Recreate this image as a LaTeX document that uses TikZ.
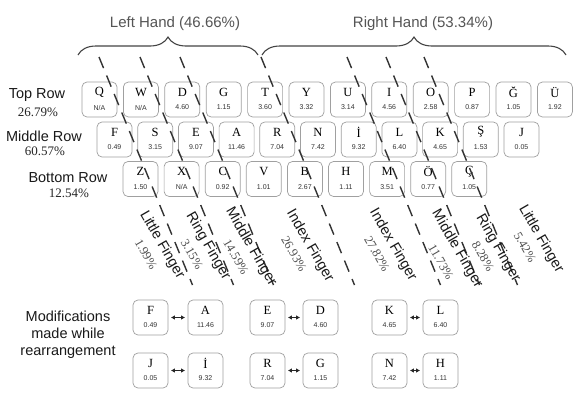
\documentclass[tikz,border=0pt]{standalone}
\usepackage{fontspec}
\setmainfont{Liberation Serif}
\setsansfont{Liberation Sans}
\usetikzlibrary{decorations.pathreplacing,arrows.meta}
\definecolor{keyborder}{HTML}{A0A0A0}
\definecolor{dashcol}{HTML}{333333}
\definecolor{bracecol}{HTML}{444444}
\definecolor{handcol}{HTML}{555555}
\definecolor{numcol}{HTML}{333333}
\definecolor{pctcol}{HTML}{505050}
\newcommand\kb[5]{%
  \node[keybox] (#1) at (#2+17.5,#3+17.5) {};
  \node[keyletter] (#1l) at (#2+17.5,#3+10) {#4};
  \node[keynum] (#1n) at (#2+17.5,#3+25.5) {#5};
}
\tikzset{
  keybox/.style={draw=keyborder, rounded corners=5pt, line width=0.7pt, minimum width=35pt, minimum height=35pt, inner sep=0pt, fill=white},
  keyletter/.style={font=\fontsize{12.5}{13}\selectfont, inner sep=0pt, text=black},
  keynum/.style={font=\sffamily\fontsize{7}{8}\selectfont, inner sep=0pt, text=numcol},
  divider/.style={draw=dashcol, line width=1.4pt, dash pattern=on 12pt off 8pt},
  bracepath/.style={draw=bracecol, line width=1.1pt, decorate, decoration={brace, amplitude=18pt}},
  handlabel/.style={font=\sffamily\fontsize{15}{17}\selectfont, text=handcol, inner sep=0pt},
  rowlabel/.style={font=\sffamily\fontsize{14.5}{16}\selectfont, text=black!90, inner sep=0pt},
  rowpct/.style={font=\fontsize{13}{14}\selectfont, text=black!85, inner sep=0pt},
  fingertext/.style={font=\sffamily\fontsize{14.5}{16}\selectfont, text=black!90, rotate=-60, inner sep=0pt},
  fingerpct/.style={font=\fontsize{12.5}{14}\selectfont, text=pctcol, rotate=-60, inner sep=0pt},
  swaparrow/.style={{Latex[length=4pt,width=4.5pt]}-{Latex[length=4pt,width=4.5pt]}, line width=0.8pt, draw=black!85, shorten <=2.5pt, shorten >=2.5pt},
  modlabel/.style={font=\sffamily\fontsize{14.5}{17}\selectfont, align=center, text=black!90, inner sep=0pt}
}
\begin{document}
\begin{tikzpicture}[x=1pt,y=-1pt]
\useasboundingbox[fill=white] (0,0) rectangle (576,397);

% hand braces
\coordinate (lb1) at (78,55);
\coordinate (lb2) at (258,55);
\coordinate (rb1) at (262,55);
\coordinate (rb2) at (566,55);
\draw[bracepath] (lb1) -- (lb2);
\draw[bracepath] (rb1) -- (rb2);
\node[handlabel] (lefthand) at (175,24) {Left Hand (46.66\%)};
\node[handlabel] (righthand) at (423,24) {Right Hand (53.34\%)};

% row labels
\node[rowlabel] (toprow) at (37,95) {Top Row};
\node[rowpct] (toppct) at (38,112) {26.79\%};
\node[rowlabel] (midrow) at (44,136) {Middle Row};
\node[rowpct] (midpct) at (45,151) {60.57\%};
\node[rowlabel] (botrow) at (68,178) {Bottom Row};
\node[rowpct] (botpct) at (69,193) {12.54\%};

% top row
\kb{t1}{82}{82}{Q}{N/A}
\kb{t2}{123.4}{82}{W}{N/A}
\kb{t3}{164.8}{82}{D}{4.60}
\kb{t4}{206.2}{82}{G}{1.15}
\kb{t5}{247.6}{82}{T}{3.60}
\kb{t6}{289}{82}{Y}{3.32}
\kb{t7}{330.4}{82}{U}{3.14}
\kb{t8}{371.8}{82}{I}{4.56}
\kb{t9}{413.2}{82}{O}{2.58}
\kb{t10}{454.6}{82}{P}{0.87}
\kb{t11}{496}{82}{Ğ}{1.05}
\kb{t12}{537.4}{82}{Ü}{1.92}

% middle row
\kb{m1}{97}{122}{F}{0.49}
\kb{m2}{137.7}{122}{S}{3.15}
\kb{m3}{178.4}{122}{E}{9.07}
\kb{m4}{219.1}{122}{A}{11.46}
\kb{m5}{259.8}{122}{R}{7.04}
\kb{m6}{300.5}{122}{N}{7.42}
\kb{m7}{341.2}{122}{İ}{9.32}
\kb{m8}{381.9}{122}{L}{6.40}
\kb{m9}{422.6}{122}{K}{4.65}
\kb{m10}{463.3}{122}{Ş}{1.53}
\kb{m11}{504}{122}{J}{0.05}

% bottom row
\kb{b1}{123}{161.5}{Z}{1.50}
\kb{b2}{164.1}{161.5}{X}{N/A}
\kb{b3}{205.2}{161.5}{C}{0.92}
\kb{b4}{246.3}{161.5}{V}{1.01}
\kb{b5}{287.4}{161.5}{B}{2.67}
\kb{b6}{328.5}{161.5}{H}{1.11}
\kb{b7}{369.6}{161.5}{M}{3.51}
\kb{b8}{410.7}{161.5}{Ö}{0.77}
\kb{b9}{451.8}{161.5}{Ç}{1.05}

% finger dividers
\coordinate (d1s) at (99,57);  \coordinate (d1e) at (192.5,285);
\coordinate (d2s) at (140,57); \coordinate (d2e) at (233.5,285);
\coordinate (d3s) at (180,57); \coordinate (d3e) at (273.5,285);
\coordinate (d4s) at (261,57); \coordinate (d4e) at (354.5,285);
\coordinate (d5s) at (347,57); \coordinate (d5e) at (440.5,285);
\coordinate (d6s) at (386,57); \coordinate (d6e) at (479.5,285);
\coordinate (d7s) at (424,57); \coordinate (d7e) at (517.5,285);
\foreach \i in {1,...,7} { \draw[divider] (d\i s) -- (d\i e); }

% finger labels
\node[fingertext] (f1) at (162,245) {Little Finger};
\node[fingerpct] (f1p) at (146,254) {1.99\%};
\node[fingertext] (f2) at (208,246) {Ring Finger};
\node[fingerpct] (f2p) at (192,254) {3.15\%};
\node[fingertext] (f3) at (251,247) {Middle Finger};
\node[fingerpct] (f3p) at (236,257) {14.59\%};
\node[fingertext] (f4) at (310,246) {Index Finger};
\node[fingerpct] (f4p) at (294,254) {26.93\%};
\node[fingertext] (f5) at (393,245) {Index Finger};
\node[fingerpct] (f5p) at (377,254) {27.82\%};
\node[fingertext] (f6) at (457,249) {Middle Finger};
\node[fingerpct] (f6p) at (441,262) {11.73\%};
\node[fingertext] (f7) at (498,248) {Ring Finger};
\node[fingerpct] (f7p) at (483,256) {8.28\%};
\node[fingertext] (f8) at (541,239) {Little Finger};
\node[fingerpct] (f8p) at (525,247) {5.42\%};

% modifications
\node[modlabel] (mods) at (68,335) {Modifications\\made while\\rearrangement};
\kb{p1}{133}{300}{F}{0.49}
\kb{p2}{188}{300}{A}{11.46}
\kb{p3}{250}{300}{E}{9.07}
\kb{p4}{303}{300}{D}{4.60}
\kb{p5}{372}{300}{K}{4.65}
\kb{p6}{423}{300}{L}{6.40}
\kb{p7}{133}{353}{J}{0.05}
\kb{p8}{188}{353}{İ}{9.32}
\kb{p9}{250}{353}{R}{7.04}
\kb{p10}{303}{353}{G}{1.15}
\kb{p11}{372}{353}{N}{7.42}
\kb{p12}{423}{353}{H}{1.11}
\draw[swaparrow] (p1) -- (p2);
\draw[swaparrow] (p3) -- (p4);
\draw[swaparrow] (p5) -- (p6);
\draw[swaparrow] (p7) -- (p8);
\draw[swaparrow] (p9) -- (p10);
\draw[swaparrow] (p11) -- (p12);
\end{tikzpicture}
\end{document}
